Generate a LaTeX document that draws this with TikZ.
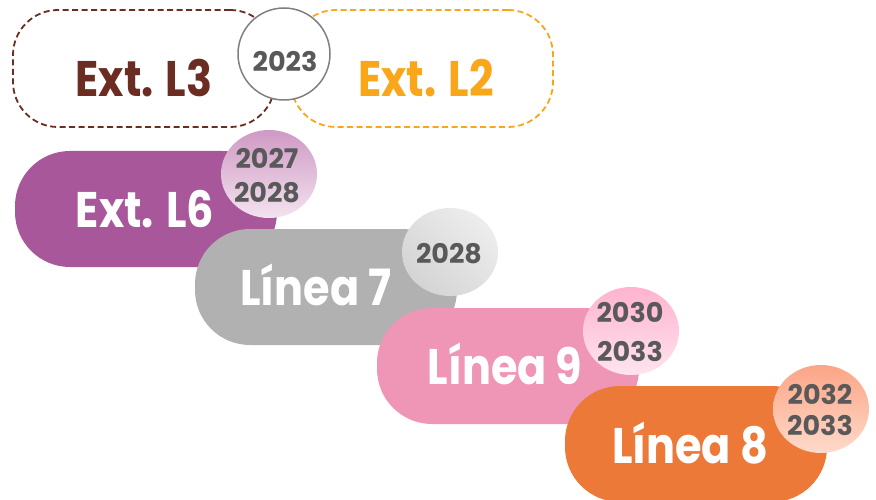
\documentclass[tikz,border=0pt]{standalone}
\usepackage{fontspec}
\setmainfont{Poppins}
\newfontfamily\pillfont[FakeStretch=0.86]{Poppins}
\usetikzlibrary{shapes.geometric}
\definecolor{extlthree}{HTML}{6B2C22}
\definecolor{extltwo}{HTML}{FAA61A}
\definecolor{extlsix}{HTML}{A9579B}
\definecolor{lineaseven}{HTML}{B1B1B1}
\definecolor{lineanine}{HTML}{EF95B5}
\definecolor{lineaeight}{HTML}{EC7938}
\definecolor{yeargray}{HTML}{595959}
\definecolor{ringgray}{HTML}{7F7F7F}

\tikzset{
  pillbox/.style={rounded corners=55pt, minimum width=262pt, minimum height=116pt, inner sep=0pt},
  dashbox/.style={draw, line width=1.8pt, dash pattern=on 6pt off 3.5pt, rounded corners=45pt,
    minimum width=262pt, minimum height=117pt, inner sep=0pt},
  yearbubble/.style={ellipse, minimum width=96pt, minimum height=88pt, inner sep=0pt},
  linelabel/.style={font=\pillfont\fontsize{50}{50}\selectfont\bfseries, anchor=base, inner sep=0pt},
  yearlabel/.style={font=\fontsize{27}{27}\selectfont\bfseries, text=yeargray, anchor=base, inner sep=0pt}
}

\begin{document}
\begin{tikzpicture}[x=1pt, y=-1pt]
\useasboundingbox (0,0) rectangle (876,500);

% Extensions 2023
\node[dashbox, draw=extlthree] (l3box) at (144,68.5) {};
\node[dashbox, draw=extltwo] (l2box) at (422,68.5) {};
\node[linelabel, text=extlthree] (l3txt) at (144,97) {Ext. L3};
\node[linelabel, text=extltwo] (l2txt) at (426,97) {Ext. L2};
\node[circle, draw=ringgray, line width=1.5pt, fill=white, minimum size=92pt, inner sep=0pt] (y2023) at (284,54) {};
\node[yearlabel] (y2023txt) at (285,72) {2023};

% Ext. L6
\node[pillbox, fill=extlsix] (l6box) at (146,209) {};
\node[linelabel, text=white] (l6txt) at (145,227) {Ext. L6};
\node[yearbubble, top color={rgb,255:red,207;green,153;blue,196}, bottom color={rgb,255:red,243;green,227;blue,239}] (l6year) at (269,174) {};
\node[yearlabel] (l6y1) at (267,168) {2027};
\node[yearlabel] (l6y2) at (267,203) {2028};

% Linea 7
\node[pillbox, fill=lineaseven] (l7box) at (326,287) {};
\node[linelabel, text=white] (l7txt) at (316,305) {Línea 7};
\node[yearbubble, shading=axis, left color=black!17, right color=black!7, shading angle=135] (l7year) at (450,252) {};
\node[yearlabel] (l7y1) at (449,263) {2028};

% Linea 9
\node[pillbox, fill=lineanine] (l9box) at (508,366) {};
\node[linelabel, text=white] (l9txt) at (505,384) {Línea 9};
\node[yearbubble, top color={rgb,255:red,255;green,179;blue,207}, bottom color={rgb,255:red,255;green,228;blue,238}] (l9year) at (631,331) {};
\node[yearlabel] (l9y1) at (630,322) {2030};
\node[yearlabel] (l9y2) at (630,361) {2033};

% Linea 8
\node[pillbox, fill=lineaeight] (l8box) at (696,444) {};
\node[linelabel, text=white] (l8txt) at (690,463) {Línea 8};
\node[yearbubble, top color={rgb,255:red,251;green,165;blue,134}, bottom color={rgb,255:red,255;green,218;blue,203}] (l8year) at (821,409) {};
\node[yearlabel] (l8y1) at (820,404) {2032};
\node[yearlabel] (l8y2) at (820,435) {2033};
\end{tikzpicture}
\end{document}
